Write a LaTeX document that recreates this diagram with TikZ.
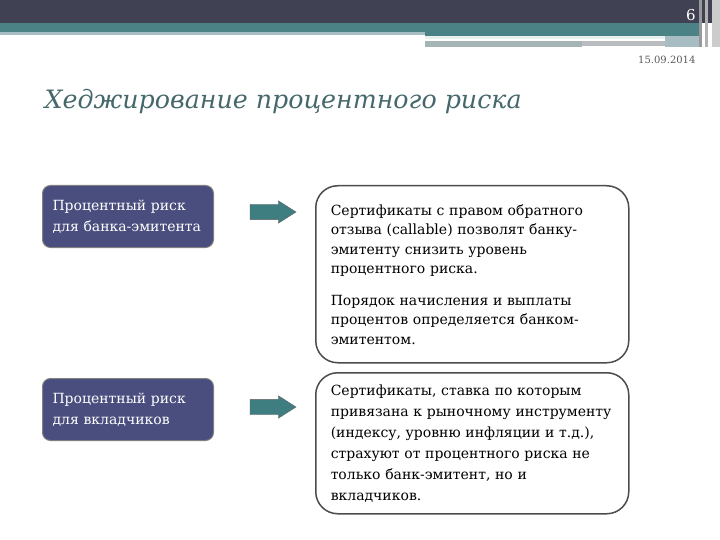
\documentclass[tikz,border=0pt]{standalone}
\usepackage{fontspec}
\setmainfont{DejaVu Serif}
\usetikzlibrary{shapes.arrows,positioning}
\definecolor{slatedark}{RGB}{64,66,84}
\definecolor{tealband}{RGB}{75,130,133}
\definecolor{greyblue}{RGB}{168,188,196}
\definecolor{barlight}{RGB}{232,240,240}
\definecolor{bargrey}{RGB}{165,181,181}
\definecolor{bargreyb}{RGB}{184,188,191}
\definecolor{titleteal}{RGB}{70,104,108}
\definecolor{boxindigo}{RGB}{74,78,126}
\definecolor{arrowteal}{RGB}{62,125,128}
\begin{document}
\begin{tikzpicture}[x=1pt,y=-1pt]
  \tikzstyle{riskbox}=[draw=black!50,fill=boxindigo,rounded corners=8pt,line width=1pt,
    text=white,align=left,text width=151pt,inner xsep=10pt,minimum width=171pt,
    minimum height=62pt,anchor=north west,font=\fontsize{14}{20.5}\selectfont]
  \tikzstyle{notebox}=[draw=black!70,fill=white,rounded corners=22pt,line width=1.5pt,
    align=left,text width=283pt,inner xsep=15pt,minimum width=313pt,
    anchor=north west,font=\fontsize{14}{19.5}\selectfont]
  \tikzstyle{blockarrow}=[single arrow,draw=black!60,fill=arrowteal,inner sep=7.5pt,
    minimum height=46pt,single arrow head extend=3.5pt,single arrow tip angle=65]
  \useasboundingbox[fill=white] (0,0) rectangle (720,540);
  % header bars
  \fill[slatedark] (0,0) rectangle (720,23);
  \fill[tealband] (0,23) rectangle (700,32);
  \fill[greyblue] (0,32) rectangle (425,35.5);
  \fill[tealband] (425,32) rectangle (700,36);
  \fill[barlight] (425,36) rectangle (665,39);
  \fill[bargrey] (425,41) rectangle (582,47);
  \fill[bargreyb] (582,41) rectangle (665,46);
  \fill[greyblue] (665,36) rectangle (700,47);
  \fill[black!40] (699,0) rectangle (702,47);
  \fill[black!30] (705,0) rectangle (708,47);
  \fill[black!20] (712,0) rectangle (720,47);
  \node[anchor=base,text=white,font=\fontsize{15}{15}\selectfont] (pageno) at (691,21) {6};
  \node[anchor=base east,text=black!65,font=\fontsize{10}{10}\selectfont] (date) at (699,64) {15.09.2014};
  \node[anchor=base west,text=titleteal,font=\fontsize{25.3}{30}\selectfont\itshape] (title) at (41,109)
    {Хеджирование процентного риска};
  % left column
  \node[riskbox] (bankrisk) at (42,185) {Процентный риск\\для банка-эмитента};
  \node[riskbox] (depositrisk) at (42,378) {Процентный риск\\для вкладчиков};
  % arrows
  \node[blockarrow] (arrowbank) at (267,212) {};
  \node[blockarrow] (arrowdeposit) at (267,407) {};
  % right column
  \node[notebox,minimum height=177pt] (callable) at (315,185)
    {Сертификаты с правом обратного\\отзыва (callable) позволят банку-\\эмитенту снизить уровень\\процентного риска.\\[12pt]
     Порядок начисления и выплаты\\процентов определяется банком-\\эмитентом.};
  \node[notebox,minimum height=141pt,font=\fontsize{14}{21}\selectfont] (floating) at (315,372)
    {Сертификаты, ставка по которым\\привязана к рыночному инструменту\\(индексу, уровню инфляции и т.д.),\\страхуют от процентного риска не\\только банк-эмитент, но и\\вкладчиков.};
\end{tikzpicture}
\end{document}
